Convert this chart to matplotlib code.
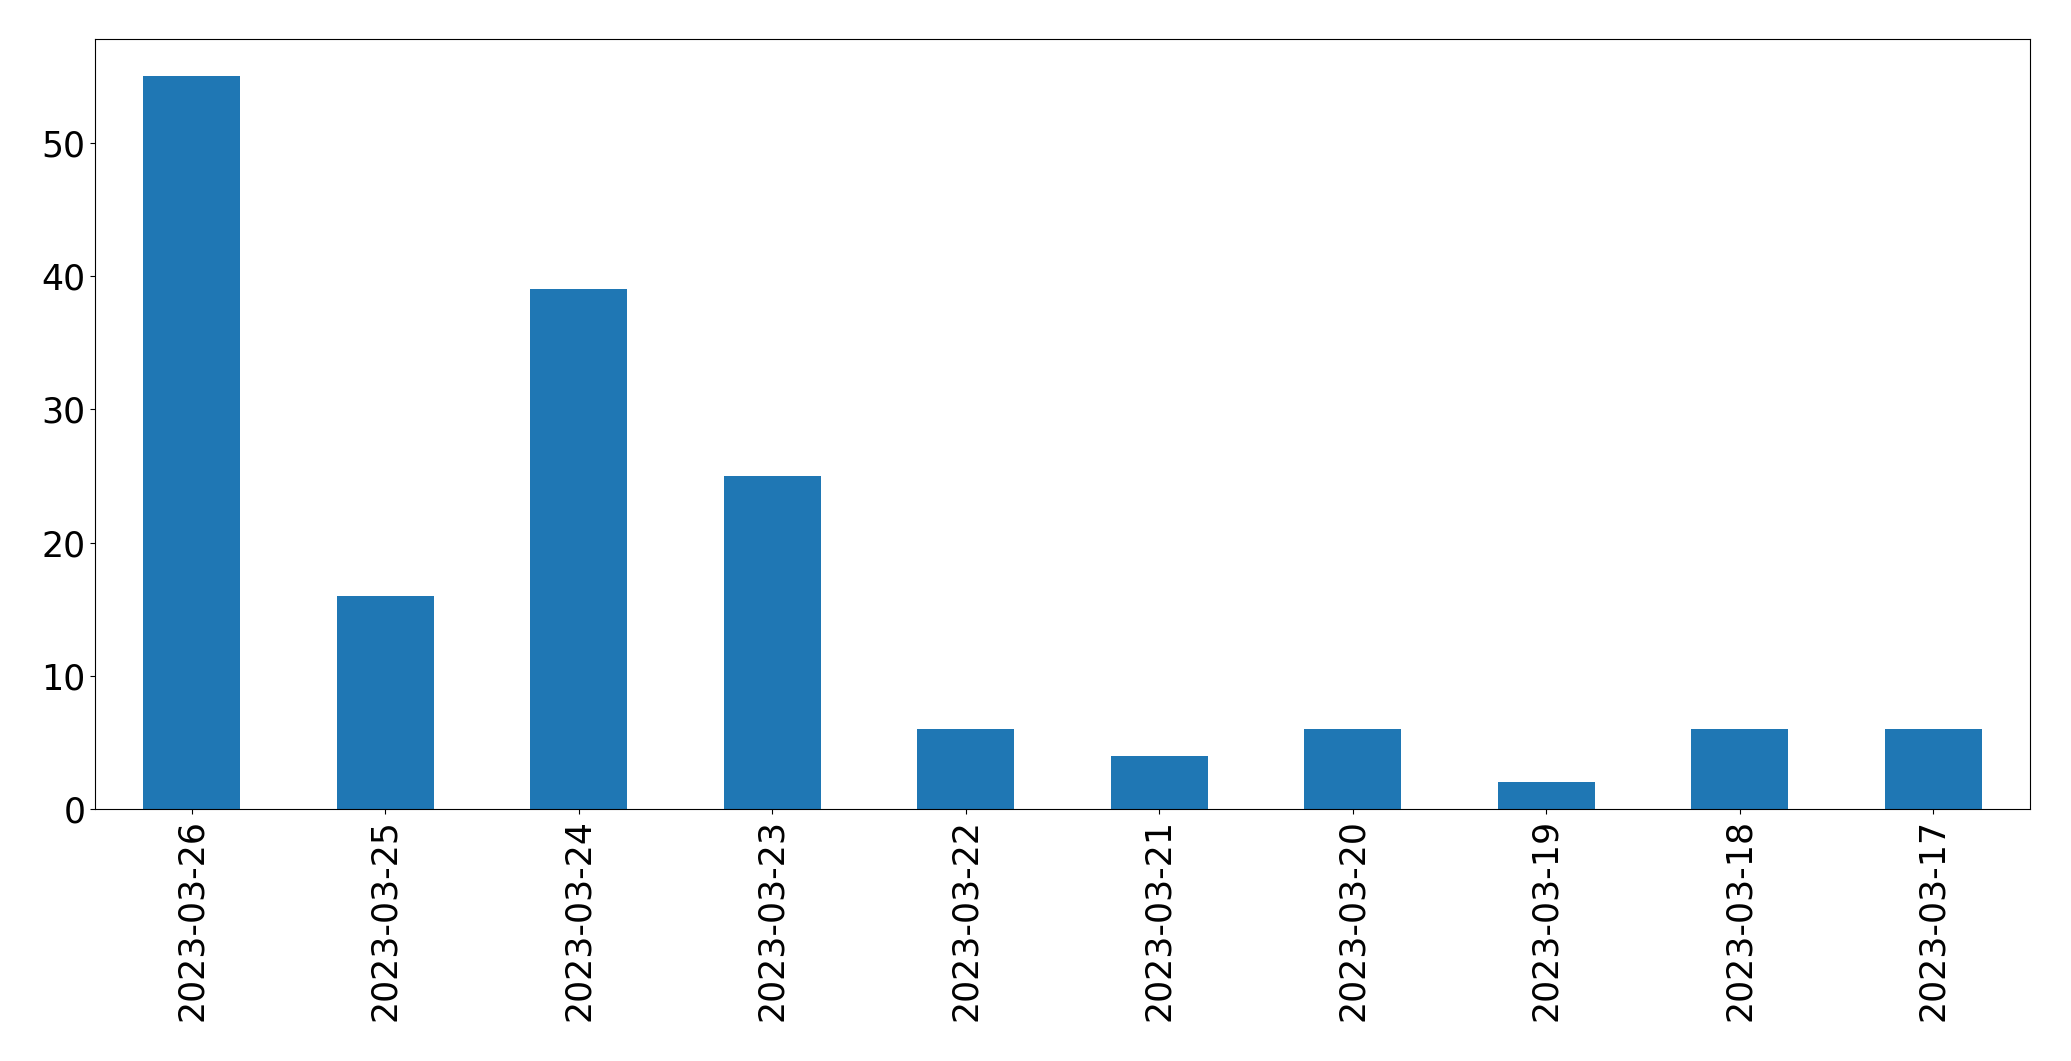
import matplotlib
matplotlib.use('Agg')
import matplotlib.pyplot as plt
import pandas as pd

dates = ['2023-03-26', '2023-03-25', '2023-03-24', '2023-03-23', '2023-03-22',
         '2023-03-21', '2023-03-20', '2023-03-19', '2023-03-18', '2023-03-17']
counts = [55, 16, 39, 25, 6, 4, 6, 2, 6, 6]

s = pd.Series(counts, index=dates)

fig = plt.figure(figsize=(20.71, 10.61), dpi=100)
ax = fig.add_axes([0.0459, 0.2375, 0.9343, 0.7253])
s.plot(kind='bar', ax=ax, color='#1f77b4')
ax.tick_params(axis='both', labelsize=25)
ax.set_yticks([0, 10, 20, 30, 40, 50])

fig.savefig('out.png', dpi=100)
